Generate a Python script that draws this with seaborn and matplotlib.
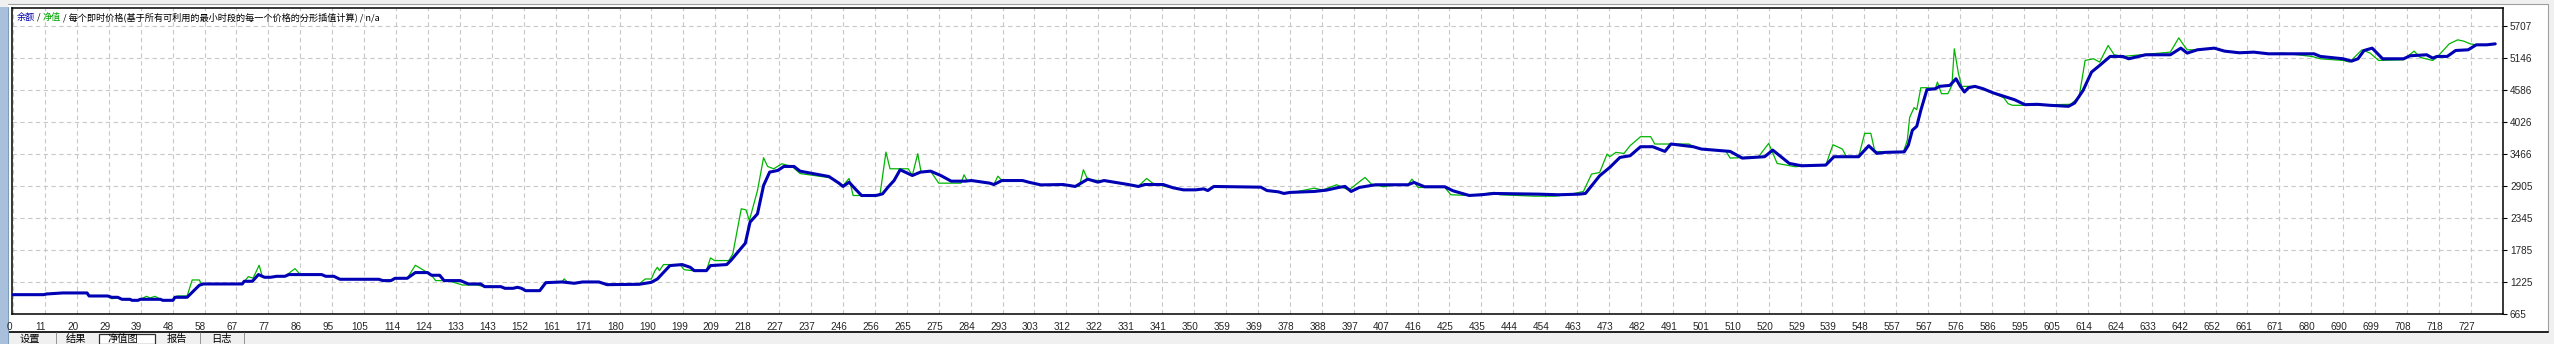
import matplotlib
matplotlib.use("Agg")
import matplotlib.pyplot as plt
import matplotlib.transforms as mtransforms
from matplotlib.patches import Rectangle
import seaborn as sns
import numpy as np

# ---------------- data ----------------
balance_x = [0, 9, 10, 14.7, 21.9, 22.5, 28, 29.2, 31, 32.2, 34.6, 35.2, 37, 37.6, 43.6, 44.3, 47.3, 47.9, 51.5, 55.1,
             56.3, 67.8, 68.4, 70.8, 72.6, 74.4, 76.2, 78, 80.4, 81.6, 91.3, 92.5, 94.9, 96.7, 108.2, 109.4, 111.8, 113,
             116.6, 119, 122.6, 123.8, 126.2, 127.5, 132.3, 134.7, 138.3, 139.5, 144.3, 145.5, 147.9, 149.2, 150.4,
             151.6, 155.8, 157.6, 162.4, 166, 168.5, 173.3, 175.7, 185.2, 188.8, 190.6, 194.3, 197.9, 200.3, 201.5,
             205.1, 206.3, 211.1, 212.3, 216.6, 218, 220.2, 222, 223.8, 226.2, 228, 231, 232.8, 237, 241.3, 244.3,
             245.5, 247.3, 249.1, 251, 255.2, 257.2, 258.8, 260.6, 262.4, 266, 268.4, 271.4, 274.4, 277.5, 281.7,
             283.5, 288.9, 290.1, 292.5, 298.6, 300.4, 304, 310.6, 314.2, 317.9, 320.9, 322.7, 329.9, 332.9, 334.7,
             340.2, 343.2, 346.2, 349.8, 352.2, 353.4, 355.2, 369.1, 370.9, 374.3, 375.9, 377.7, 384.9, 388.5, 392.1,
             394, 395.8, 398.2, 403, 412.6, 414.4, 417.5, 423.5, 425.9, 430.7, 434.3, 438, 451.2, 457.2, 463.3, 465.1,
             469.3, 472.3, 475.3, 478.3, 481.4, 485, 488.6, 490.4, 497, 499.4, 507.9, 511.5, 518.1, 520.5, 525.4, 529,
             536.2, 538.6, 545.9, 548.9, 551.3, 553.7, 559.4, 560.6, 561.8, 563.1, 564.3, 566.1, 568.6, 569.8, 572.9,
             574.7, 576, 577.2, 578.4, 580.3, 582.7, 585.8, 588.9, 592, 595.1, 598.8, 602.4, 608, 609.8, 612.3, 614.8,
             617.2, 620.3, 624, 625.8, 630.8, 638.1, 641.2, 643.1, 646.1, 651.1, 654.1, 658.5, 662.8, 667.1, 680.6,
             682.5, 689.2, 691.7, 693.6, 695.4, 697.8, 700.9, 707.1, 709, 713.9, 715.7, 717, 720, 722.5, 726.2, 728.6,
             731.7, 734.2]
balance_y = [1003, 1003, 1015, 1033, 1033, 980, 980, 957, 957, 922, 922, 904, 904, 922, 922, 904, 904, 957, 957, 1167,
             1190, 1190, 1237, 1237, 1354, 1307, 1307, 1324, 1324, 1354, 1354, 1324, 1324, 1272, 1272, 1249, 1249, 1289,
             1289, 1389, 1389, 1342, 1342, 1249, 1249, 1190, 1190, 1143, 1143, 1114, 1114, 1132, 1114,
             1073, 1073, 1213, 1225, 1202, 1225, 1225, 1178, 1184, 1219, 1277, 1511, 1529, 1482, 1423,
             1423, 1511, 1529, 1599, 1902, 2270, 2416, 2911, 3145, 3174, 3244, 3244, 3162, 3115, 3069, 2952,
             2894, 2969, 2852, 2736, 2736, 2765, 2882, 2998, 3186, 3086, 3145, 3162, 3086, 2987, 2987,
             2998, 2952, 2928, 2998, 2998, 2969, 2922, 2928, 2894, 3022, 2969, 2998, 2928, 2894, 2928,
             2928, 2870, 2835, 2835, 2852, 2823, 2894, 2882, 2823, 2800, 2772, 2790, 2807, 2830, 2877,
             2895, 2807, 2877, 2924, 2924, 2965, 2889, 2889, 2819, 2737, 2749, 2772, 2760, 2749, 2760, 2772,
             3081, 3227, 3402, 3431, 3589, 3589, 3507, 3636, 3589, 3548, 3507, 3390, 3414, 3530, 3297, 3256,
             3268, 3414, 3414, 3606, 3472, 3490, 3499, 3615, 3877, 3947, 4225, 4586, 4603, 4644, 4661,
             4777, 4644, 4545, 4620, 4644, 4603, 4528, 4469, 4411, 4324, 4330, 4313, 4295, 4353, 4574, 4894,
             5010, 5167, 5167, 5126, 5196, 5196, 5312, 5225, 5283, 5312, 5260, 5231, 5242, 5213, 5213,
             5167, 5126, 5085, 5126, 5271, 5312, 5126, 5126, 5178, 5196, 5138, 5167, 5167, 5271, 5283, 5370,
             5370, 5387]

equity_x = [0, 9, 9.9, 11, 14.7, 21.9, 22.5, 28, 29.2, 31, 32.2, 35.2, 37, 37.6, 39.5, 40.5, 42, 43.6, 44.3, 47.3,
            48.5, 51.5, 53, 55.1, 55.7, 67.8, 69.6, 71, 72.8, 73.8, 76.2, 78, 80.4, 83.4, 85, 91.3, 92.5, 94.9, 96.7,
            108.2, 109.4, 111.8, 113, 116.6, 119, 122.6, 123.8, 125, 128.7, 132.9, 137.1, 139.5, 144.3, 145.5, 147.9,
            149.2, 150.4, 151.6, 155.8, 156.4, 157.6, 162.4, 163, 164, 166, 168.5, 173.3, 175.7, 185.2, 187, 188.8,
            189.9, 190.6, 191.2, 192.4, 197.3, 198.5, 200.9, 205.1, 206.3, 207.5, 211.7, 212.9, 215.4, 216.8, 217.8,
            220.2, 222, 223.2, 225, 227.4, 230.4, 232.8, 241.9, 245.5, 247.3, 248.5, 256.4, 258.2, 259.4, 264.8, 266,
            267.6, 268.6, 271.4, 273.8, 280.4, 281.3, 282.3, 283.5, 288.9, 290.1, 291.3, 292.5, 298.6, 300.4, 304,
            310.6, 315.4, 316.6, 317.9, 321.5, 329.9, 332.9, 335.3, 337.1, 340.8, 346.2, 349.8, 352.2, 353.4, 355.2,
            369.1, 370.9, 374.3, 375.9, 377.7, 380.1, 384.9, 387.3, 391.5, 395.1, 397.6, 399.9, 401.8, 405.4, 409,
            412.6, 413.8, 415.6, 423.5, 425.3, 430.7, 436.1, 438, 439.8, 450, 456, 460.9, 464.5, 466.9, 469.3, 471.5,
            472.3, 474.1, 476.5, 478.3, 481.4, 484.4, 485.6, 495.8, 497, 499.4, 506.7, 507.9, 516.3, 519.3, 521.8,
            527.2, 532, 536.2, 538.3, 541.1, 542.3, 545.9, 547.7, 549.5, 550.7, 559.1, 560.3, 561, 562.3, 563.1, 564.3,
            566.1, 568.6, 569.2, 570.4, 572.3, 573.5, 574.2, 575.4, 576.4, 578.9, 580.3, 582.7, 585.8, 588.9, 590.1,
            591.4, 595.1, 608.6, 611.1, 612.9, 615.4, 617.2, 619.7, 621.5, 624, 629.5, 638.1, 640.6, 641.8, 643.1,
            646.1, 651.1, 654.1, 658.5, 662.8, 667.1, 671.4, 680, 682.5, 689.2, 691.1, 694.8, 697.2, 699.7, 707.1,
            710.2, 712, 715.7, 717, 720.6, 723.1, 724.9, 726.8, 728.6, 731.7, 734.2]
equity_y = [1003, 1003, 1027, 1015, 1033, 1033, 980, 980, 933, 945, 922, 904, 904, 922, 974, 945, 974, 922, 904, 904,
            980, 980, 1260, 1260, 1190, 1190, 1318, 1290, 1517, 1307, 1307, 1324, 1324, 1458, 1354, 1354, 1324, 1324,
            1272, 1272, 1249, 1249, 1289, 1289, 1517, 1389, 1342, 1249, 1249, 1172, 1172, 1143, 1143, 1114, 1114,
            1132, 1114, 1073, 1073, 1143, 1213, 1225, 1278, 1225, 1202, 1225, 1225, 1172, 1190, 1277, 1277,
            1423, 1482, 1423, 1529, 1529, 1440, 1423, 1423, 1645, 1599, 1599, 1715, 2504, 2485, 2299,
            2823, 3396, 3244, 3203, 3291, 3244, 3120, 3045, 2911, 3034, 2736, 2736, 3495, 3203, 3203, 3086,
            3466, 3145, 3162, 2952, 2952, 3098, 2987, 2998, 2952, 2928, 3074, 2998, 2998, 2969, 2922,
            2928, 2894, 3186, 3010, 2998, 2928, 2900, 3034, 2952, 2894, 2835, 2835, 2852, 2823, 2894,
            2882, 2823, 2800, 2772, 2790, 2807, 2865, 2830, 2924, 2830, 2947, 3052, 2935, 2889, 2924,
            2924, 3023, 2877, 2877, 2749, 2737, 2772, 2790, 2749, 2725, 2725, 2760, 2807, 3110, 3139, 3461,
            3414, 3490, 3472, 3606, 3764, 3764, 3636, 3636, 3589, 3548, 3507, 3390, 3414, 3647, 3297,
            3239, 3268, 3268, 3624, 3548, 3414, 3414, 3823, 3823, 3507, 3490, 3700, 4102, 4272, 4237, 4620,
            4620, 4603, 4719, 4516, 4516, 4661, 5300, 4876, 4644, 4644, 4644, 4603, 4528, 4440, 4342,
            4313, 4313, 4330, 4458, 5097, 5126, 5068, 5358, 5196, 5167, 5196, 5242, 5492, 5387, 5283,
            5283, 5312, 5260, 5231, 5242, 5213, 5225, 5167, 5126, 5097, 5068, 5283, 5225, 5097, 5109,
            5260, 5150, 5097, 5155, 5387, 5457, 5434, 5387, 5370, 5370, 5387]

y_tick_values = [665, 1225.2, 1785.4, 2345.6, 2905.8, 3466, 4026.2, 4586.4, 5146.6, 5706.8]
y_tick_labels = ["665", "1225", "1785", "2345", "2905", "3466", "4026", "4586", "5146", "5707"]
x_tick_labels = ["0", "11", "20", "29", "39", "48", "58", "67", "77", "86", "95", "105", "114", "124", "133", "143",
                 "152", "161", "171", "180", "190", "199", "209", "218", "227", "237", "246", "256", "265", "275",
                 "284", "293", "303", "312", "322", "331", "341", "350", "359", "369", "378", "388", "397", "407",
                 "416", "425", "435", "444", "454", "463", "473", "482", "491", "501", "510", "520", "529", "539",
                 "548", "557", "567", "576", "586", "595", "605", "614", "624", "633", "642", "652", "661", "671",
                 "680", "690", "699", "708", "718", "727"]
legend_parts = [("余额", "#0000a8"), (" / ", "#000000"), ("净值", "#00a000"),
                (" / 每个即时价格(基于所有可利用的最小时段的每一个价格的分形插值计算) / n/a", "#000000")]
tab_labels = ["设置", "结果", "净值图", "报告", "日志"]

# ---------------- figure ----------------
W, H = 2554, 344
sns.set_style("white")
plt.rcParams['font.family'] = ['Noto Sans CJK SC', 'DejaVu Sans']
fig = plt.figure(figsize=(W / 100, H / 100), dpi=100, facecolor="#f0f0f0")


def fx(px):
    return px / W


def fy(py):
    return 1 - py / H


# window panel (white) and frame
fig.patches.append(Rectangle((fx(8), fy(332)), fx(2548 - 8), (332 - 4) / H, transform=fig.transFigure,
                             facecolor="white", edgecolor="none", zorder=-5))
fig.lines.append(plt.Line2D([fx(8), fx(2548)], [fy(4), fy(4)], transform=fig.transFigure, color="#a0a0a0", lw=0.8,
                            zorder=-4))
fig.lines.append(plt.Line2D([fx(2548), fx(2548)], [fy(4), fy(332)], transform=fig.transFigure, color="#a0a0a0",
                            lw=0.8, zorder=-4))
fig.lines.append(plt.Line2D([fx(8), fx(2548)], [fy(332), fy(332)], transform=fig.transFigure, color="#202020",
                            lw=1.4, zorder=-4))
# left splitter strip
fig.patches.append(Rectangle((0, 0), fx(8), fy(7), transform=fig.transFigure,
                             facecolor="#a8c0dc", edgecolor="none", zorder=-4))
fig.lines.append(plt.Line2D([fx(8), fx(8)], [0, fy(7)], transform=fig.transFigure, color="#7f9db9", lw=0.8,
                            zorder=-4))

# plot axes
L, R, T, B = 12, 2503, 8, 314
ax = fig.add_axes([fx(L), fy(B), fx(R - L), (B - T) / H])
ax.set_zorder(5)
ax.set_facecolor("white")

step = 727 / 77
x_ticks = [i * step for i in range(len(x_tick_labels))]

sns.lineplot(x=equity_x, y=equity_y, ax=ax, color="#00b400", linewidth=0.9, estimator=None, sort=False, zorder=3)
sns.lineplot(x=balance_x, y=balance_y, ax=ax, color="#0000b4", linewidth=2.2, estimator=None, sort=False, zorder=4)

ax.set_xlim(-0.3, 736.5)
ax.set_ylim(665, 665 + (B - T) / 32.05 * 560.2)
ax.set_xticks(x_ticks)
ax.set_xticklabels(x_tick_labels)
ax.set_yticks(y_tick_values)
ax.set_yticklabels(y_tick_labels)
ax.yaxis.tick_right()
ax.tick_params(axis="both", direction="out", length=3, width=0.8, color="black", labelsize=7.2, pad=2,
               labelfontfamily="Liberation Sans")
ax.tick_params(axis="x", pad=3)
ax.set_xlabel("")
ax.set_ylabel("")
ax.grid(True, color="#c8c8c8", linestyle=(0, (4, 3)), linewidth=0.8)
ax.set_axisbelow(True)
for s in ax.spines.values():
    s.set_color("black")
    s.set_linewidth(1.1)

# shift x tick labels slightly left (labels sit left of ticks)
off = mtransforms.ScaledTranslation(-4 / 100, 0, fig.dpi_scale_trans)
for lab in ax.get_xticklabels():
    lab.set_transform(lab.get_transform() + off)

# legend line (multi-coloured text)
fig.canvas.draw()
renderer = fig.canvas.get_renderer()
xpos = 17
for txt, col in legend_parts:
    t = fig.text(fx(xpos), fy(17), txt, color=col, fontsize=6.6, va="center", ha="left",
                 family=["Noto Sans CJK SC", "DejaVu Sans"], zorder=10)
    bb = t.get_window_extent(renderer)
    xpos += bb.width

# bottom tabs
tab_x = [20, 66, 107, 167, 211]
sep_x = [55, 199, 243]
fig.patches.append(Rectangle((fx(99), 0), fx(56), (344 - 334) / H, transform=fig.transFigure,
                             facecolor="white", edgecolor="#303030", lw=0.9, zorder=2))
for x0, lab in zip(tab_x, tab_labels):
    fig.text(fx(x0), fy(344), lab, fontsize=7.4, va="bottom", ha="left", color="#000000",
             family=["Noto Sans CJK SC", "DejaVu Sans"], zorder=3)
for x0 in sep_x:
    fig.text(fx(x0), fy(344), "|", fontsize=7.4, va="bottom", ha="left", color="#606060", zorder=3)

fig.savefig("out.png", dpi=100, facecolor=fig.get_facecolor())
